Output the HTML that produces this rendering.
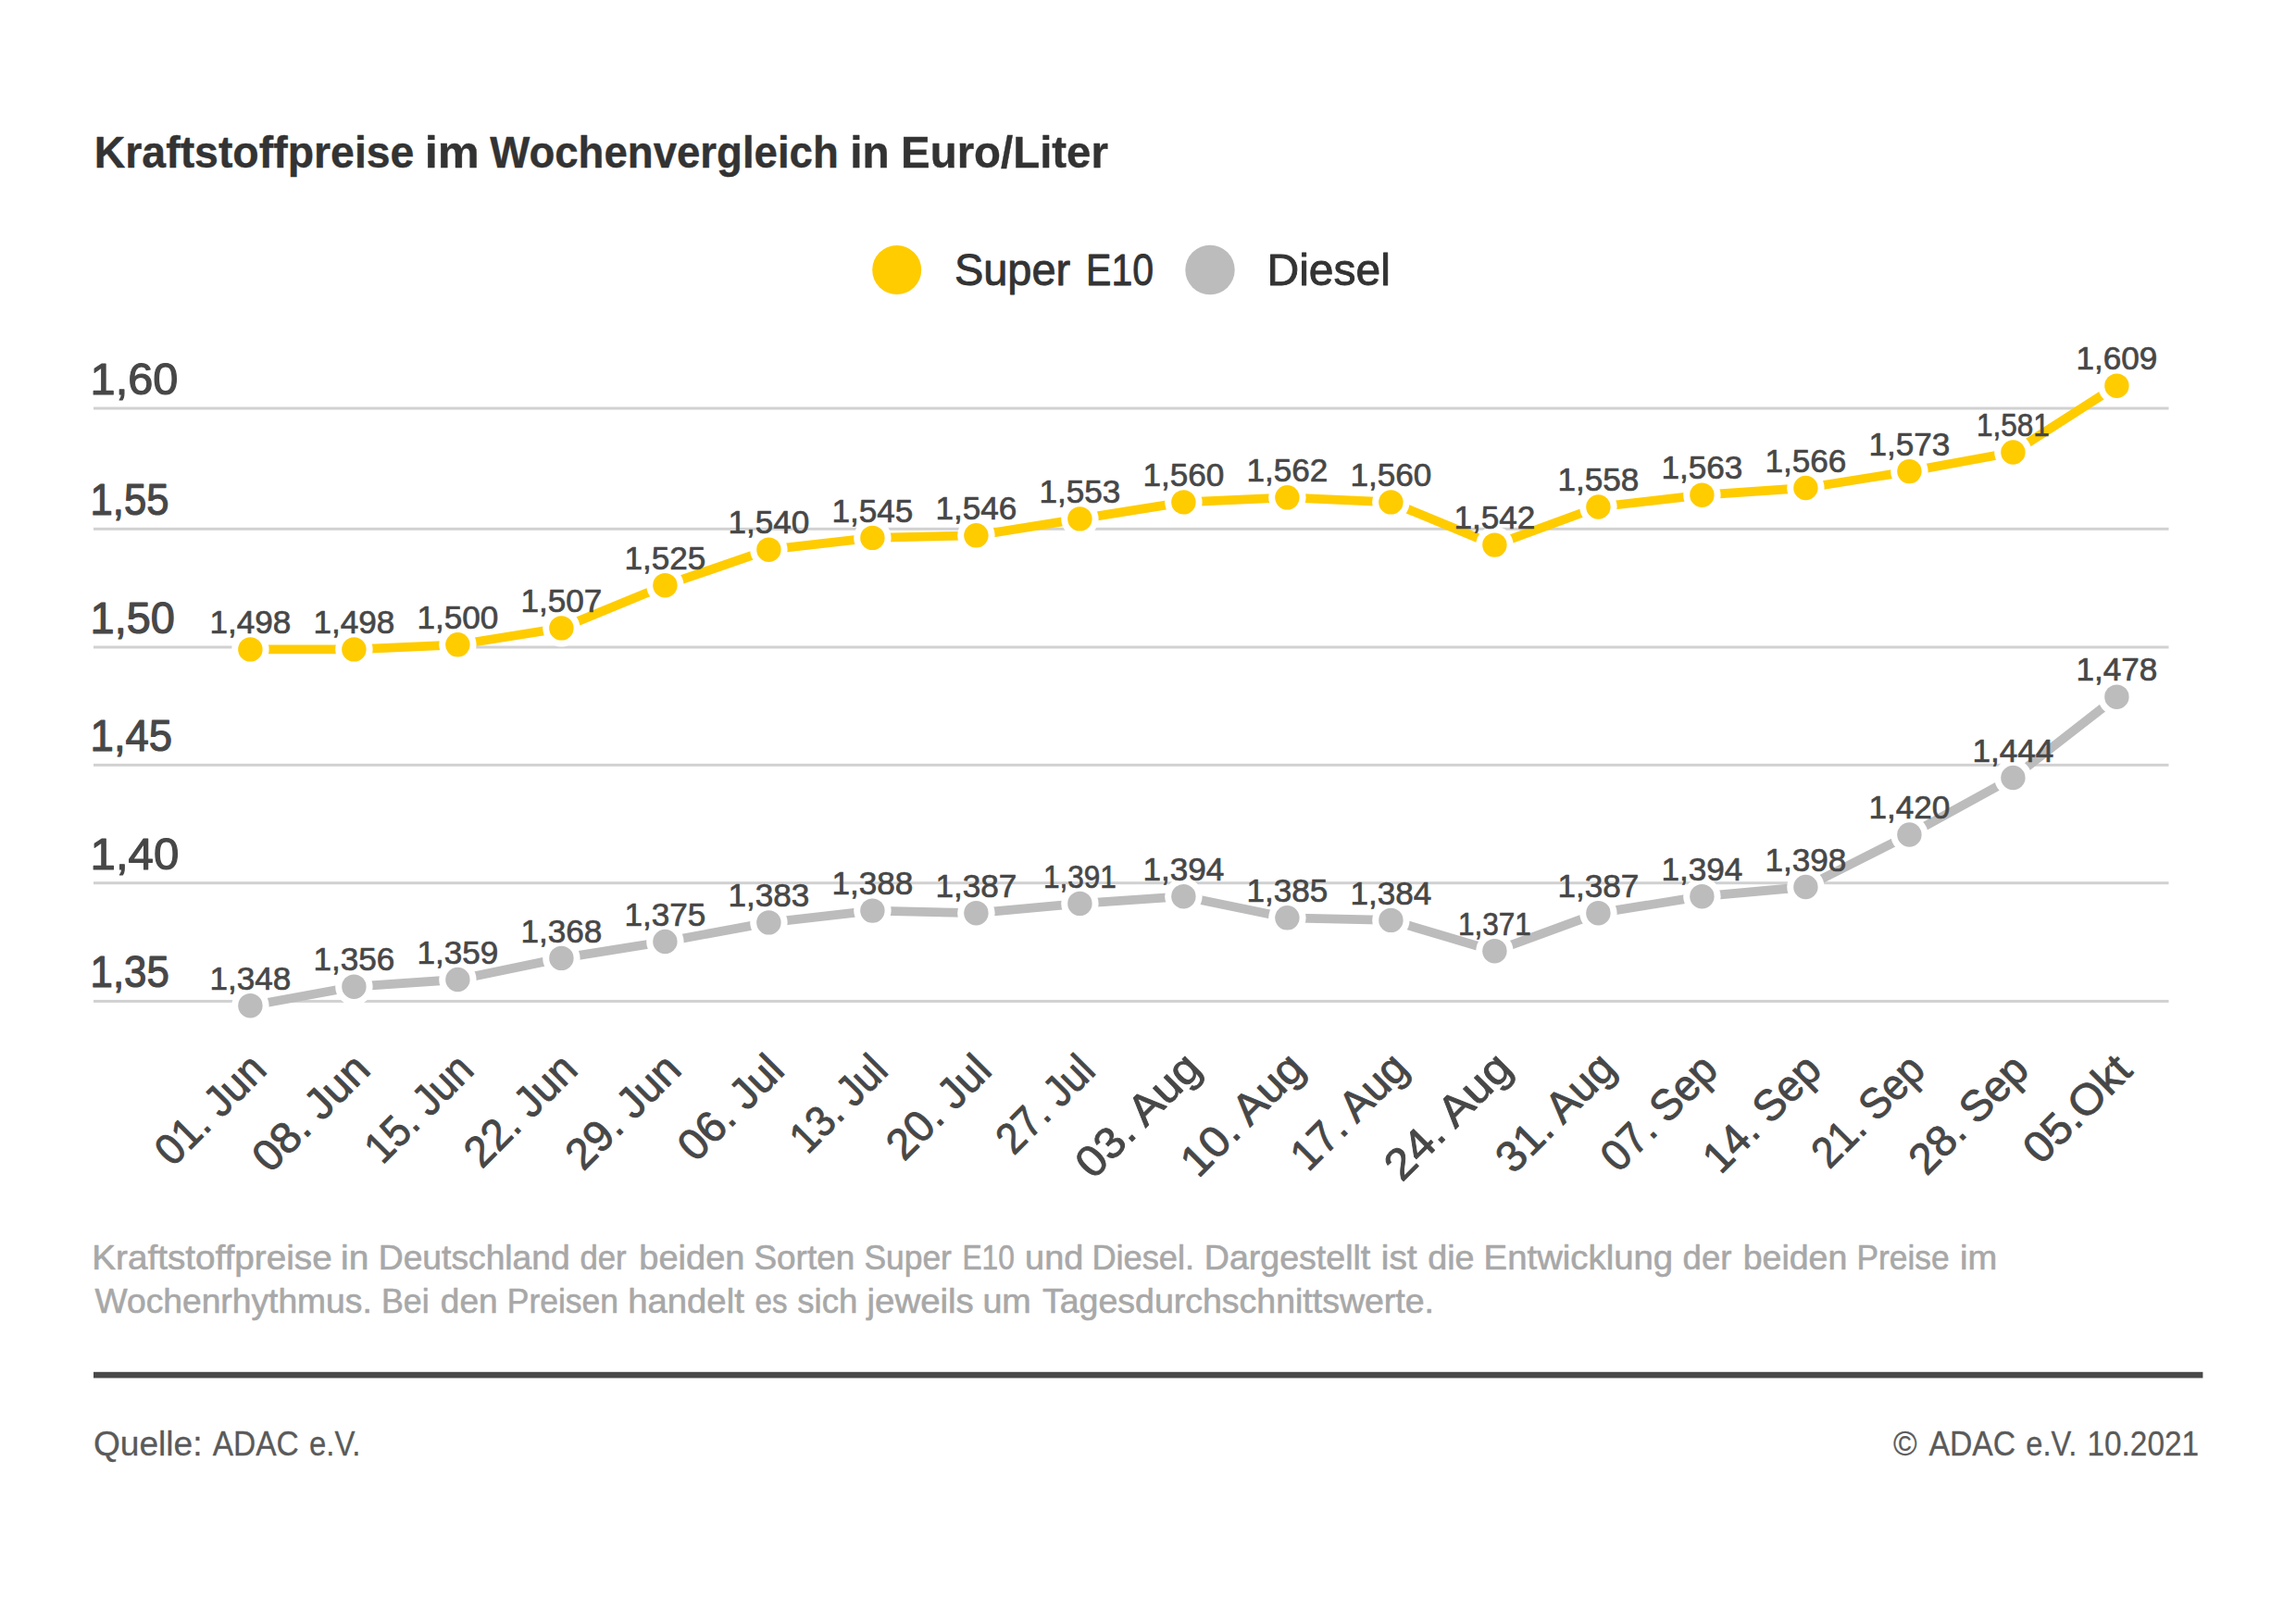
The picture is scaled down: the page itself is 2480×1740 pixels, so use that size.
<!DOCTYPE html><html><head><meta charset="utf-8"><style>html,body{margin:0;padding:0;background:#fff;overflow:hidden;width:2480px;height:1740px;}svg{display:block;}text{font-family:"Liberation Sans", sans-serif;}</style></head><body>
<svg width="2480" height="1740" viewBox="0 0 2480 1740">
<rect width="2480" height="1740" fill="#fff"/>
<text x="101.76" y="181.00" font-size="49" font-weight="bold" fill="#333" stroke="#333" stroke-width="0.4" stroke-linejoin="round" textLength="345.70" lengthAdjust="spacingAndGlyphs">Kraftstoffpreise</text>
<text x="458.71" y="181.00" font-size="49" font-weight="bold" fill="#333" stroke="#333" stroke-width="0.4" stroke-linejoin="round" textLength="58.98" lengthAdjust="spacingAndGlyphs">im</text>
<text x="529.20" y="181.00" font-size="49" font-weight="bold" fill="#333" stroke="#333" stroke-width="0.4" stroke-linejoin="round" textLength="376.63" lengthAdjust="spacingAndGlyphs">Wochenvergleich</text>
<text x="918.18" y="181.00" font-size="49" font-weight="bold" fill="#333" stroke="#333" stroke-width="0.4" stroke-linejoin="round" textLength="42.40" lengthAdjust="spacingAndGlyphs">in</text>
<text x="973.10" y="181.00" font-size="49" font-weight="bold" fill="#333" stroke="#333" stroke-width="0.4" stroke-linejoin="round" textLength="223.81" lengthAdjust="spacingAndGlyphs">Euro/Liter</text>
<circle cx="968.7" cy="291.5" r="26.5" fill="#ffcc00"/>
<circle cx="1307" cy="291.5" r="26.7" fill="#bcbcbc"/>
<text x="1030.89" y="308.00" font-size="48" fill="#333" stroke="#333" stroke-width="0.9" stroke-linejoin="round" textLength="125.25" lengthAdjust="spacingAndGlyphs">Super</text>
<text x="1173.03" y="308.00" font-size="48" fill="#333" stroke="#333" stroke-width="0.9" stroke-linejoin="round" textLength="73.02" lengthAdjust="spacingAndGlyphs">E10</text>
<text x="1368.45" y="308.00" font-size="48" fill="#333" stroke="#333" stroke-width="0.9" stroke-linejoin="round" textLength="133.50" lengthAdjust="spacingAndGlyphs">Diesel</text>
<rect x="101" y="439.5" width="2241.5" height="3" fill="#d1d1d1"/>
<rect x="101" y="569.8" width="2241.5" height="3" fill="#d1d1d1"/>
<rect x="101" y="697.5" width="2241.5" height="3" fill="#d1d1d1"/>
<rect x="101" y="824.8" width="2241.5" height="3" fill="#d1d1d1"/>
<rect x="101" y="952.2" width="2241.5" height="3" fill="#d1d1d1"/>
<rect x="101" y="1079.9" width="2241.5" height="3" fill="#d1d1d1"/>
<text x="97.60" y="426.00" font-size="49" fill="#474747" stroke="#474747" stroke-width="1.2" stroke-linejoin="round" textLength="94.70" lengthAdjust="spacingAndGlyphs">1,60</text>
<text x="97.60" y="556.30" font-size="49" fill="#474747" stroke="#474747" stroke-width="1.2" stroke-linejoin="round" textLength="84.90" lengthAdjust="spacingAndGlyphs">1,55</text>
<text x="97.60" y="684.00" font-size="49" fill="#474747" stroke="#474747" stroke-width="1.2" stroke-linejoin="round" textLength="91.30" lengthAdjust="spacingAndGlyphs">1,50</text>
<text x="97.60" y="811.30" font-size="49" fill="#474747" stroke="#474747" stroke-width="1.2" stroke-linejoin="round" textLength="88.60" lengthAdjust="spacingAndGlyphs">1,45</text>
<text x="97.60" y="938.70" font-size="49" fill="#474747" stroke="#474747" stroke-width="1.2" stroke-linejoin="round" textLength="95.70" lengthAdjust="spacingAndGlyphs">1,40</text>
<text x="97.60" y="1066.40" font-size="49" fill="#474747" stroke="#474747" stroke-width="1.2" stroke-linejoin="round" textLength="85.20" lengthAdjust="spacingAndGlyphs">1,35</text>
<polyline points="270.4,701.4 382.4,701.4 494.4,696.3 606.4,678.4 718.4,632.2 830.4,593.7 942.4,580.9 1054.4,578.3 1166.4,560.4 1278.4,542.4 1390.4,537.3 1502.4,542.4 1614.4,588.6 1726.4,547.5 1838.4,534.7 1950.4,527.0 2062.4,509.1 2174.4,488.5 2286.4,416.7" fill="none" stroke="#ffcc00" stroke-width="9.8" stroke-linejoin="round"/>
<polyline points="270.4,1086.2 382.4,1065.7 494.4,1058.0 606.4,1034.9 718.4,1017.0 830.4,996.4 942.4,983.6 1054.4,986.2 1166.4,975.9 1278.4,968.2 1390.4,991.3 1502.4,993.9 1614.4,1027.2 1726.4,986.2 1838.4,968.2 1950.4,958.0 2062.4,901.5 2174.4,840.0 2286.4,752.7" fill="none" stroke="#bcbcbc" stroke-width="9.8" stroke-linejoin="round"/>
<circle cx="270.4" cy="701.4" r="20.2" fill="#fff"/>
<circle cx="270.4" cy="701.4" r="13.2" fill="#ffcc00"/>
<circle cx="382.4" cy="701.4" r="20.2" fill="#fff"/>
<circle cx="382.4" cy="701.4" r="13.2" fill="#ffcc00"/>
<circle cx="494.4" cy="696.3" r="20.2" fill="#fff"/>
<circle cx="494.4" cy="696.3" r="13.2" fill="#ffcc00"/>
<circle cx="606.4" cy="678.4" r="20.2" fill="#fff"/>
<circle cx="606.4" cy="678.4" r="13.2" fill="#ffcc00"/>
<circle cx="718.4" cy="632.2" r="20.2" fill="#fff"/>
<circle cx="718.4" cy="632.2" r="13.2" fill="#ffcc00"/>
<circle cx="830.4" cy="593.7" r="20.2" fill="#fff"/>
<circle cx="830.4" cy="593.7" r="13.2" fill="#ffcc00"/>
<circle cx="942.4" cy="580.9" r="20.2" fill="#fff"/>
<circle cx="942.4" cy="580.9" r="13.2" fill="#ffcc00"/>
<circle cx="1054.4" cy="578.3" r="20.2" fill="#fff"/>
<circle cx="1054.4" cy="578.3" r="13.2" fill="#ffcc00"/>
<circle cx="1166.4" cy="560.4" r="20.2" fill="#fff"/>
<circle cx="1166.4" cy="560.4" r="13.2" fill="#ffcc00"/>
<circle cx="1278.4" cy="542.4" r="20.2" fill="#fff"/>
<circle cx="1278.4" cy="542.4" r="13.2" fill="#ffcc00"/>
<circle cx="1390.4" cy="537.3" r="20.2" fill="#fff"/>
<circle cx="1390.4" cy="537.3" r="13.2" fill="#ffcc00"/>
<circle cx="1502.4" cy="542.4" r="20.2" fill="#fff"/>
<circle cx="1502.4" cy="542.4" r="13.2" fill="#ffcc00"/>
<circle cx="1614.4" cy="588.6" r="20.2" fill="#fff"/>
<circle cx="1614.4" cy="588.6" r="13.2" fill="#ffcc00"/>
<circle cx="1726.4" cy="547.5" r="20.2" fill="#fff"/>
<circle cx="1726.4" cy="547.5" r="13.2" fill="#ffcc00"/>
<circle cx="1838.4" cy="534.7" r="20.2" fill="#fff"/>
<circle cx="1838.4" cy="534.7" r="13.2" fill="#ffcc00"/>
<circle cx="1950.4" cy="527.0" r="20.2" fill="#fff"/>
<circle cx="1950.4" cy="527.0" r="13.2" fill="#ffcc00"/>
<circle cx="2062.4" cy="509.1" r="20.2" fill="#fff"/>
<circle cx="2062.4" cy="509.1" r="13.2" fill="#ffcc00"/>
<circle cx="2174.4" cy="488.5" r="20.2" fill="#fff"/>
<circle cx="2174.4" cy="488.5" r="13.2" fill="#ffcc00"/>
<circle cx="2286.4" cy="416.7" r="20.2" fill="#fff"/>
<circle cx="2286.4" cy="416.7" r="13.2" fill="#ffcc00"/>
<circle cx="270.4" cy="1086.2" r="20.2" fill="#fff"/>
<circle cx="270.4" cy="1086.2" r="13.2" fill="#bcbcbc"/>
<circle cx="382.4" cy="1065.7" r="20.2" fill="#fff"/>
<circle cx="382.4" cy="1065.7" r="13.2" fill="#bcbcbc"/>
<circle cx="494.4" cy="1058.0" r="20.2" fill="#fff"/>
<circle cx="494.4" cy="1058.0" r="13.2" fill="#bcbcbc"/>
<circle cx="606.4" cy="1034.9" r="20.2" fill="#fff"/>
<circle cx="606.4" cy="1034.9" r="13.2" fill="#bcbcbc"/>
<circle cx="718.4" cy="1017.0" r="20.2" fill="#fff"/>
<circle cx="718.4" cy="1017.0" r="13.2" fill="#bcbcbc"/>
<circle cx="830.4" cy="996.4" r="20.2" fill="#fff"/>
<circle cx="830.4" cy="996.4" r="13.2" fill="#bcbcbc"/>
<circle cx="942.4" cy="983.6" r="20.2" fill="#fff"/>
<circle cx="942.4" cy="983.6" r="13.2" fill="#bcbcbc"/>
<circle cx="1054.4" cy="986.2" r="20.2" fill="#fff"/>
<circle cx="1054.4" cy="986.2" r="13.2" fill="#bcbcbc"/>
<circle cx="1166.4" cy="975.9" r="20.2" fill="#fff"/>
<circle cx="1166.4" cy="975.9" r="13.2" fill="#bcbcbc"/>
<circle cx="1278.4" cy="968.2" r="20.2" fill="#fff"/>
<circle cx="1278.4" cy="968.2" r="13.2" fill="#bcbcbc"/>
<circle cx="1390.4" cy="991.3" r="20.2" fill="#fff"/>
<circle cx="1390.4" cy="991.3" r="13.2" fill="#bcbcbc"/>
<circle cx="1502.4" cy="993.9" r="20.2" fill="#fff"/>
<circle cx="1502.4" cy="993.9" r="13.2" fill="#bcbcbc"/>
<circle cx="1614.4" cy="1027.2" r="20.2" fill="#fff"/>
<circle cx="1614.4" cy="1027.2" r="13.2" fill="#bcbcbc"/>
<circle cx="1726.4" cy="986.2" r="20.2" fill="#fff"/>
<circle cx="1726.4" cy="986.2" r="13.2" fill="#bcbcbc"/>
<circle cx="1838.4" cy="968.2" r="20.2" fill="#fff"/>
<circle cx="1838.4" cy="968.2" r="13.2" fill="#bcbcbc"/>
<circle cx="1950.4" cy="958.0" r="20.2" fill="#fff"/>
<circle cx="1950.4" cy="958.0" r="13.2" fill="#bcbcbc"/>
<circle cx="2062.4" cy="901.5" r="20.2" fill="#fff"/>
<circle cx="2062.4" cy="901.5" r="13.2" fill="#bcbcbc"/>
<circle cx="2174.4" cy="840.0" r="20.2" fill="#fff"/>
<circle cx="2174.4" cy="840.0" r="13.2" fill="#bcbcbc"/>
<circle cx="2286.4" cy="752.7" r="20.2" fill="#fff"/>
<circle cx="2286.4" cy="752.7" r="13.2" fill="#bcbcbc"/>
<text x="270.40" y="684.15" font-size="35.8" fill="#474747" stroke="#474747" stroke-width="0.7" stroke-linejoin="round" text-anchor="middle" textLength="87.90" lengthAdjust="spacingAndGlyphs">1,498</text>
<text x="382.40" y="684.15" font-size="35.8" fill="#474747" stroke="#474747" stroke-width="0.7" stroke-linejoin="round" text-anchor="middle" textLength="87.90" lengthAdjust="spacingAndGlyphs">1,498</text>
<text x="494.40" y="679.01" font-size="35.8" fill="#474747" stroke="#474747" stroke-width="0.7" stroke-linejoin="round" text-anchor="middle" textLength="87.90" lengthAdjust="spacingAndGlyphs">1,500</text>
<text x="606.40" y="661.06" font-size="35.8" fill="#474747" stroke="#474747" stroke-width="0.7" stroke-linejoin="round" text-anchor="middle" textLength="87.90" lengthAdjust="spacingAndGlyphs">1,507</text>
<text x="718.40" y="614.89" font-size="35.8" fill="#474747" stroke="#474747" stroke-width="0.7" stroke-linejoin="round" text-anchor="middle" textLength="87.90" lengthAdjust="spacingAndGlyphs">1,525</text>
<text x="830.40" y="576.41" font-size="35.8" fill="#474747" stroke="#474747" stroke-width="0.7" stroke-linejoin="round" text-anchor="middle" textLength="87.90" lengthAdjust="spacingAndGlyphs">1,540</text>
<text x="942.40" y="563.59" font-size="35.8" fill="#474747" stroke="#474747" stroke-width="0.7" stroke-linejoin="round" text-anchor="middle" textLength="87.90" lengthAdjust="spacingAndGlyphs">1,545</text>
<text x="1054.40" y="561.02" font-size="35.8" fill="#474747" stroke="#474747" stroke-width="0.7" stroke-linejoin="round" text-anchor="middle" textLength="87.90" lengthAdjust="spacingAndGlyphs">1,546</text>
<text x="1166.40" y="543.07" font-size="35.8" fill="#474747" stroke="#474747" stroke-width="0.7" stroke-linejoin="round" text-anchor="middle" textLength="87.90" lengthAdjust="spacingAndGlyphs">1,553</text>
<text x="1278.40" y="525.11" font-size="35.8" fill="#474747" stroke="#474747" stroke-width="0.7" stroke-linejoin="round" text-anchor="middle" textLength="87.90" lengthAdjust="spacingAndGlyphs">1,560</text>
<text x="1390.40" y="519.98" font-size="35.8" fill="#474747" stroke="#474747" stroke-width="0.7" stroke-linejoin="round" text-anchor="middle" textLength="87.90" lengthAdjust="spacingAndGlyphs">1,562</text>
<text x="1502.40" y="525.11" font-size="35.8" fill="#474747" stroke="#474747" stroke-width="0.7" stroke-linejoin="round" text-anchor="middle" textLength="87.90" lengthAdjust="spacingAndGlyphs">1,560</text>
<text x="1614.40" y="571.28" font-size="35.8" fill="#474747" stroke="#474747" stroke-width="0.7" stroke-linejoin="round" text-anchor="middle" textLength="87.90" lengthAdjust="spacingAndGlyphs">1,542</text>
<text x="1726.40" y="530.24" font-size="35.8" fill="#474747" stroke="#474747" stroke-width="0.7" stroke-linejoin="round" text-anchor="middle" textLength="87.90" lengthAdjust="spacingAndGlyphs">1,558</text>
<text x="1838.40" y="517.41" font-size="35.8" fill="#474747" stroke="#474747" stroke-width="0.7" stroke-linejoin="round" text-anchor="middle" textLength="87.90" lengthAdjust="spacingAndGlyphs">1,563</text>
<text x="1950.40" y="509.72" font-size="35.8" fill="#474747" stroke="#474747" stroke-width="0.7" stroke-linejoin="round" text-anchor="middle" textLength="87.90" lengthAdjust="spacingAndGlyphs">1,566</text>
<text x="2062.40" y="491.76" font-size="35.8" fill="#474747" stroke="#474747" stroke-width="0.7" stroke-linejoin="round" text-anchor="middle" textLength="87.90" lengthAdjust="spacingAndGlyphs">1,573</text>
<text x="2174.40" y="471.24" font-size="35.8" fill="#474747" stroke="#474747" stroke-width="0.7" stroke-linejoin="round" text-anchor="middle" textLength="78.90" lengthAdjust="spacingAndGlyphs">1,581</text>
<text x="2286.40" y="399.42" font-size="35.8" fill="#474747" stroke="#474747" stroke-width="0.7" stroke-linejoin="round" text-anchor="middle" textLength="87.90" lengthAdjust="spacingAndGlyphs">1,609</text>
<text x="270.40" y="1068.91" font-size="35.8" fill="#474747" stroke="#474747" stroke-width="0.7" stroke-linejoin="round" text-anchor="middle" textLength="87.90" lengthAdjust="spacingAndGlyphs">1,348</text>
<text x="382.40" y="1048.39" font-size="35.8" fill="#474747" stroke="#474747" stroke-width="0.7" stroke-linejoin="round" text-anchor="middle" textLength="87.90" lengthAdjust="spacingAndGlyphs">1,356</text>
<text x="494.40" y="1040.69" font-size="35.8" fill="#474747" stroke="#474747" stroke-width="0.7" stroke-linejoin="round" text-anchor="middle" textLength="87.90" lengthAdjust="spacingAndGlyphs">1,359</text>
<text x="606.40" y="1017.61" font-size="35.8" fill="#474747" stroke="#474747" stroke-width="0.7" stroke-linejoin="round" text-anchor="middle" textLength="87.90" lengthAdjust="spacingAndGlyphs">1,368</text>
<text x="718.40" y="999.65" font-size="35.8" fill="#474747" stroke="#474747" stroke-width="0.7" stroke-linejoin="round" text-anchor="middle" textLength="87.90" lengthAdjust="spacingAndGlyphs">1,375</text>
<text x="830.40" y="979.13" font-size="35.8" fill="#474747" stroke="#474747" stroke-width="0.7" stroke-linejoin="round" text-anchor="middle" textLength="87.90" lengthAdjust="spacingAndGlyphs">1,383</text>
<text x="942.40" y="966.31" font-size="35.8" fill="#474747" stroke="#474747" stroke-width="0.7" stroke-linejoin="round" text-anchor="middle" textLength="87.90" lengthAdjust="spacingAndGlyphs">1,388</text>
<text x="1054.40" y="968.87" font-size="35.8" fill="#474747" stroke="#474747" stroke-width="0.7" stroke-linejoin="round" text-anchor="middle" textLength="87.90" lengthAdjust="spacingAndGlyphs">1,387</text>
<text x="1166.40" y="958.61" font-size="35.8" fill="#474747" stroke="#474747" stroke-width="0.7" stroke-linejoin="round" text-anchor="middle" textLength="78.90" lengthAdjust="spacingAndGlyphs">1,391</text>
<text x="1278.40" y="950.91" font-size="35.8" fill="#474747" stroke="#474747" stroke-width="0.7" stroke-linejoin="round" text-anchor="middle" textLength="87.90" lengthAdjust="spacingAndGlyphs">1,394</text>
<text x="1390.40" y="974.00" font-size="35.8" fill="#474747" stroke="#474747" stroke-width="0.7" stroke-linejoin="round" text-anchor="middle" textLength="87.90" lengthAdjust="spacingAndGlyphs">1,385</text>
<text x="1502.40" y="976.57" font-size="35.8" fill="#474747" stroke="#474747" stroke-width="0.7" stroke-linejoin="round" text-anchor="middle" textLength="87.90" lengthAdjust="spacingAndGlyphs">1,384</text>
<text x="1614.40" y="1009.91" font-size="35.8" fill="#474747" stroke="#474747" stroke-width="0.7" stroke-linejoin="round" text-anchor="middle" textLength="78.90" lengthAdjust="spacingAndGlyphs">1,371</text>
<text x="1726.40" y="968.87" font-size="35.8" fill="#474747" stroke="#474747" stroke-width="0.7" stroke-linejoin="round" text-anchor="middle" textLength="87.90" lengthAdjust="spacingAndGlyphs">1,387</text>
<text x="1838.40" y="950.91" font-size="35.8" fill="#474747" stroke="#474747" stroke-width="0.7" stroke-linejoin="round" text-anchor="middle" textLength="87.90" lengthAdjust="spacingAndGlyphs">1,394</text>
<text x="1950.40" y="940.65" font-size="35.8" fill="#474747" stroke="#474747" stroke-width="0.7" stroke-linejoin="round" text-anchor="middle" textLength="87.90" lengthAdjust="spacingAndGlyphs">1,398</text>
<text x="2062.40" y="884.22" font-size="35.8" fill="#474747" stroke="#474747" stroke-width="0.7" stroke-linejoin="round" text-anchor="middle" textLength="87.90" lengthAdjust="spacingAndGlyphs">1,420</text>
<text x="2174.40" y="822.66" font-size="35.8" fill="#474747" stroke="#474747" stroke-width="0.7" stroke-linejoin="round" text-anchor="middle" textLength="87.90" lengthAdjust="spacingAndGlyphs">1,444</text>
<text x="2286.40" y="735.45" font-size="35.8" fill="#474747" stroke="#474747" stroke-width="0.7" stroke-linejoin="round" text-anchor="middle" textLength="87.90" lengthAdjust="spacingAndGlyphs">1,478</text>
<text transform="translate(290.06,1157.79) rotate(-45)" font-size="47" fill="#474747" stroke="#474747" stroke-width="0.9" stroke-linejoin="round" text-anchor="end" textLength="146.49" lengthAdjust="spacingAndGlyphs">01. Jun</text>
<text transform="translate(402.20,1157.62) rotate(-45)" font-size="47" fill="#474747" stroke="#474747" stroke-width="0.9" stroke-linejoin="round" text-anchor="end" textLength="156.35" lengthAdjust="spacingAndGlyphs">08. Jun</text>
<text transform="translate(513.98,1157.85) rotate(-45)" font-size="47" fill="#474747" stroke="#474747" stroke-width="0.9" stroke-linejoin="round" text-anchor="end" textLength="142.70" lengthAdjust="spacingAndGlyphs">15. Jun</text>
<text transform="translate(626.09,1157.74) rotate(-45)" font-size="47" fill="#474747" stroke="#474747" stroke-width="0.9" stroke-linejoin="round" text-anchor="end" textLength="149.17" lengthAdjust="spacingAndGlyphs">22. Jun</text>
<text transform="translate(738.15,1157.68) rotate(-45)" font-size="47" fill="#474747" stroke="#474747" stroke-width="0.9" stroke-linejoin="round" text-anchor="end" textLength="152.82" lengthAdjust="spacingAndGlyphs">29. Jun</text>
<text transform="translate(849.43,1158.39) rotate(-45)" font-size="47" fill="#474747" stroke="#474747" stroke-width="0.9" stroke-linejoin="round" text-anchor="end" textLength="138.83" lengthAdjust="spacingAndGlyphs">06. Jul</text>
<text transform="translate(961.20,1158.62) rotate(-45)" font-size="47" fill="#474747" stroke="#474747" stroke-width="0.9" stroke-linejoin="round" text-anchor="end" textLength="125.94" lengthAdjust="spacingAndGlyphs">13. Jul</text>
<text transform="translate(1073.40,1158.42) rotate(-45)" font-size="47" fill="#474747" stroke="#474747" stroke-width="0.9" stroke-linejoin="round" text-anchor="end" textLength="136.96" lengthAdjust="spacingAndGlyphs">20. Jul</text>
<text transform="translate(1185.23,1158.60) rotate(-45)" font-size="47" fill="#474747" stroke="#474747" stroke-width="0.9" stroke-linejoin="round" text-anchor="end" textLength="127.64" lengthAdjust="spacingAndGlyphs">27. Jul</text>
<text transform="translate(1299.62,1156.22) rotate(-45)" font-size="47" fill="#474747" stroke="#474747" stroke-width="0.9" stroke-linejoin="round" text-anchor="end" textLength="167.99" lengthAdjust="spacingAndGlyphs">03. Aug</text>
<text transform="translate(1411.59,1156.26) rotate(-45)" font-size="47" fill="#474747" stroke="#474747" stroke-width="0.9" stroke-linejoin="round" text-anchor="end" textLength="165.88" lengthAdjust="spacingAndGlyphs">10. Aug</text>
<text transform="translate(1523.42,1156.40) rotate(-45)" font-size="47" fill="#474747" stroke="#474747" stroke-width="0.9" stroke-linejoin="round" text-anchor="end" textLength="156.02" lengthAdjust="spacingAndGlyphs">17. Aug</text>
<text transform="translate(1635.67,1156.15) rotate(-45)" font-size="47" fill="#474747" stroke="#474747" stroke-width="0.9" stroke-linejoin="round" text-anchor="end" textLength="171.68" lengthAdjust="spacingAndGlyphs">24. Aug</text>
<text transform="translate(1747.48,1156.35) rotate(-45)" font-size="47" fill="#474747" stroke="#474747" stroke-width="0.9" stroke-linejoin="round" text-anchor="end" textLength="159.58" lengthAdjust="spacingAndGlyphs">31. Aug</text>
<text transform="translate(1857.64,1158.18) rotate(-45)" font-size="47" fill="#474747" stroke="#474747" stroke-width="0.9" stroke-linejoin="round" text-anchor="end" textLength="154.86" lengthAdjust="spacingAndGlyphs">07. Sep</text>
<text transform="translate(1969.66,1158.16) rotate(-45)" font-size="47" fill="#474747" stroke="#474747" stroke-width="0.9" stroke-linejoin="round" text-anchor="end" textLength="157.38" lengthAdjust="spacingAndGlyphs">14. Sep</text>
<text transform="translate(2081.59,1158.25) rotate(-45)" font-size="47" fill="#474747" stroke="#474747" stroke-width="0.9" stroke-linejoin="round" text-anchor="end" textLength="149.37" lengthAdjust="spacingAndGlyphs">21. Sep</text>
<text transform="translate(2193.68,1158.14) rotate(-45)" font-size="47" fill="#474747" stroke="#474747" stroke-width="0.9" stroke-linejoin="round" text-anchor="end" textLength="159.48" lengthAdjust="spacingAndGlyphs">28. Sep</text>
<text transform="translate(2305.36,1158.47) rotate(-45)" font-size="47" fill="#474747" stroke="#474747" stroke-width="0.9" stroke-linejoin="round" text-anchor="end" textLength="142.55" lengthAdjust="spacingAndGlyphs">05.Okt</text>
<text x="99.28" y="1371.00" font-size="36" fill="#a8a8a8" stroke="#a8a8a8" stroke-width="0.6" stroke-linejoin="round" textLength="259.38" lengthAdjust="spacingAndGlyphs">Kraftstoffpreise</text>
<text x="368.04" y="1371.00" font-size="36" fill="#a8a8a8" stroke="#a8a8a8" stroke-width="0.6" stroke-linejoin="round" textLength="30.25" lengthAdjust="spacingAndGlyphs">in</text>
<text x="408.80" y="1371.00" font-size="36" fill="#a8a8a8" stroke="#a8a8a8" stroke-width="0.6" stroke-linejoin="round" textLength="206.91" lengthAdjust="spacingAndGlyphs">Deutschland</text>
<text x="626.54" y="1371.00" font-size="36" fill="#a8a8a8" stroke="#a8a8a8" stroke-width="0.6" stroke-linejoin="round" textLength="50.09" lengthAdjust="spacingAndGlyphs">der</text>
<text x="690.29" y="1371.00" font-size="36" fill="#a8a8a8" stroke="#a8a8a8" stroke-width="0.6" stroke-linejoin="round" textLength="114.14" lengthAdjust="spacingAndGlyphs">beiden</text>
<text x="814.45" y="1371.00" font-size="36" fill="#a8a8a8" stroke="#a8a8a8" stroke-width="0.6" stroke-linejoin="round" textLength="108.78" lengthAdjust="spacingAndGlyphs">Sorten</text>
<text x="933.43" y="1371.00" font-size="36" fill="#a8a8a8" stroke="#a8a8a8" stroke-width="0.6" stroke-linejoin="round" textLength="94.44" lengthAdjust="spacingAndGlyphs">Super</text>
<text x="1039.46" y="1371.00" font-size="36" fill="#a8a8a8" stroke="#a8a8a8" stroke-width="0.6" stroke-linejoin="round" textLength="56.38" lengthAdjust="spacingAndGlyphs">E10</text>
<text x="1107.10" y="1371.00" font-size="36" fill="#a8a8a8" stroke="#a8a8a8" stroke-width="0.6" stroke-linejoin="round" textLength="63.19" lengthAdjust="spacingAndGlyphs">und</text>
<text x="1179.38" y="1371.00" font-size="36" fill="#a8a8a8" stroke="#a8a8a8" stroke-width="0.6" stroke-linejoin="round" textLength="110.68" lengthAdjust="spacingAndGlyphs">Diesel.</text>
<text x="1300.87" y="1371.00" font-size="36" fill="#a8a8a8" stroke="#a8a8a8" stroke-width="0.6" stroke-linejoin="round" textLength="179.41" lengthAdjust="spacingAndGlyphs">Dargestellt</text>
<text x="1491.85" y="1371.00" font-size="36" fill="#a8a8a8" stroke="#a8a8a8" stroke-width="0.6" stroke-linejoin="round" textLength="38.75" lengthAdjust="spacingAndGlyphs">ist</text>
<text x="1542.25" y="1371.00" font-size="36" fill="#a8a8a8" stroke="#a8a8a8" stroke-width="0.6" stroke-linejoin="round" textLength="50.34" lengthAdjust="spacingAndGlyphs">die</text>
<text x="1602.61" y="1371.00" font-size="36" fill="#a8a8a8" stroke="#a8a8a8" stroke-width="0.6" stroke-linejoin="round" textLength="204.52" lengthAdjust="spacingAndGlyphs">Entwicklung</text>
<text x="1817.59" y="1371.00" font-size="36" fill="#a8a8a8" stroke="#a8a8a8" stroke-width="0.6" stroke-linejoin="round" textLength="52.75" lengthAdjust="spacingAndGlyphs">der</text>
<text x="1882.72" y="1371.00" font-size="36" fill="#a8a8a8" stroke="#a8a8a8" stroke-width="0.6" stroke-linejoin="round" textLength="112.58" lengthAdjust="spacingAndGlyphs">beiden</text>
<text x="2005.56" y="1371.00" font-size="36" fill="#a8a8a8" stroke="#a8a8a8" stroke-width="0.6" stroke-linejoin="round" textLength="100.07" lengthAdjust="spacingAndGlyphs">Preise</text>
<text x="2116.98" y="1371.00" font-size="36" fill="#a8a8a8" stroke="#a8a8a8" stroke-width="0.6" stroke-linejoin="round" textLength="40.24" lengthAdjust="spacingAndGlyphs">im</text>
<text x="102.50" y="1417.50" font-size="36" fill="#a8a8a8" stroke="#a8a8a8" stroke-width="0.6" stroke-linejoin="round" textLength="299.25" lengthAdjust="spacingAndGlyphs">Wochenrhythmus.</text>
<text x="412.02" y="1417.50" font-size="36" fill="#a8a8a8" stroke="#a8a8a8" stroke-width="0.6" stroke-linejoin="round" textLength="51.70" lengthAdjust="spacingAndGlyphs">Bei</text>
<text x="475.87" y="1417.50" font-size="36" fill="#a8a8a8" stroke="#a8a8a8" stroke-width="0.6" stroke-linejoin="round" textLength="61.66" lengthAdjust="spacingAndGlyphs">den</text>
<text x="547.75" y="1417.50" font-size="36" fill="#a8a8a8" stroke="#a8a8a8" stroke-width="0.6" stroke-linejoin="round" textLength="120.18" lengthAdjust="spacingAndGlyphs">Preisen</text>
<text x="678.17" y="1417.50" font-size="36" fill="#a8a8a8" stroke="#a8a8a8" stroke-width="0.6" stroke-linejoin="round" textLength="125.64" lengthAdjust="spacingAndGlyphs">handelt</text>
<text x="815.58" y="1417.50" font-size="36" fill="#a8a8a8" stroke="#a8a8a8" stroke-width="0.6" stroke-linejoin="round" textLength="34.86" lengthAdjust="spacingAndGlyphs">es</text>
<text x="861.29" y="1417.50" font-size="36" fill="#a8a8a8" stroke="#a8a8a8" stroke-width="0.6" stroke-linejoin="round" textLength="64.98" lengthAdjust="spacingAndGlyphs">sich</text>
<text x="936.47" y="1417.50" font-size="36" fill="#a8a8a8" stroke="#a8a8a8" stroke-width="0.6" stroke-linejoin="round" textLength="115.35" lengthAdjust="spacingAndGlyphs">jeweils</text>
<text x="1061.40" y="1417.50" font-size="36" fill="#a8a8a8" stroke="#a8a8a8" stroke-width="0.6" stroke-linejoin="round" textLength="52.41" lengthAdjust="spacingAndGlyphs">um</text>
<text x="1126.00" y="1417.50" font-size="36" fill="#a8a8a8" stroke="#a8a8a8" stroke-width="0.6" stroke-linejoin="round" textLength="423.04" lengthAdjust="spacingAndGlyphs">Tagesdurchschnittswerte.</text>
<rect x="101" y="1481.8" width="2278.4" height="6.6" fill="#4a4a4a"/>
<text x="100.95" y="1572.40" font-size="37" fill="#5a5a5a" stroke="#5a5a5a" stroke-width="0.3" stroke-linejoin="round" textLength="117.65" lengthAdjust="spacingAndGlyphs">Quelle:</text>
<text x="229.65" y="1572.40" font-size="37" fill="#5a5a5a" stroke="#5a5a5a" stroke-width="0.3" stroke-linejoin="round" textLength="93.14" lengthAdjust="spacingAndGlyphs">ADAC</text>
<text x="333.96" y="1572.40" font-size="37" fill="#5a5a5a" stroke="#5a5a5a" stroke-width="0.3" stroke-linejoin="round" textLength="55.54" lengthAdjust="spacingAndGlyphs">e.V.</text>
<text x="2045.05" y="1572.40" font-size="37" fill="#5a5a5a" stroke="#5a5a5a" stroke-width="0.3" stroke-linejoin="round" textLength="25.65" lengthAdjust="spacingAndGlyphs">©</text>
<text x="2083.45" y="1572.40" font-size="37" fill="#5a5a5a" stroke="#5a5a5a" stroke-width="0.3" stroke-linejoin="round" textLength="93.65" lengthAdjust="spacingAndGlyphs">ADAC</text>
<text x="2188.27" y="1572.40" font-size="37" fill="#5a5a5a" stroke="#5a5a5a" stroke-width="0.3" stroke-linejoin="round" textLength="55.02" lengthAdjust="spacingAndGlyphs">e.V.</text>
<text x="2254.45" y="1572.40" font-size="37" fill="#5a5a5a" stroke="#5a5a5a" stroke-width="0.3" stroke-linejoin="round" textLength="120.68" lengthAdjust="spacingAndGlyphs">10.2021</text>
</svg></body></html>
